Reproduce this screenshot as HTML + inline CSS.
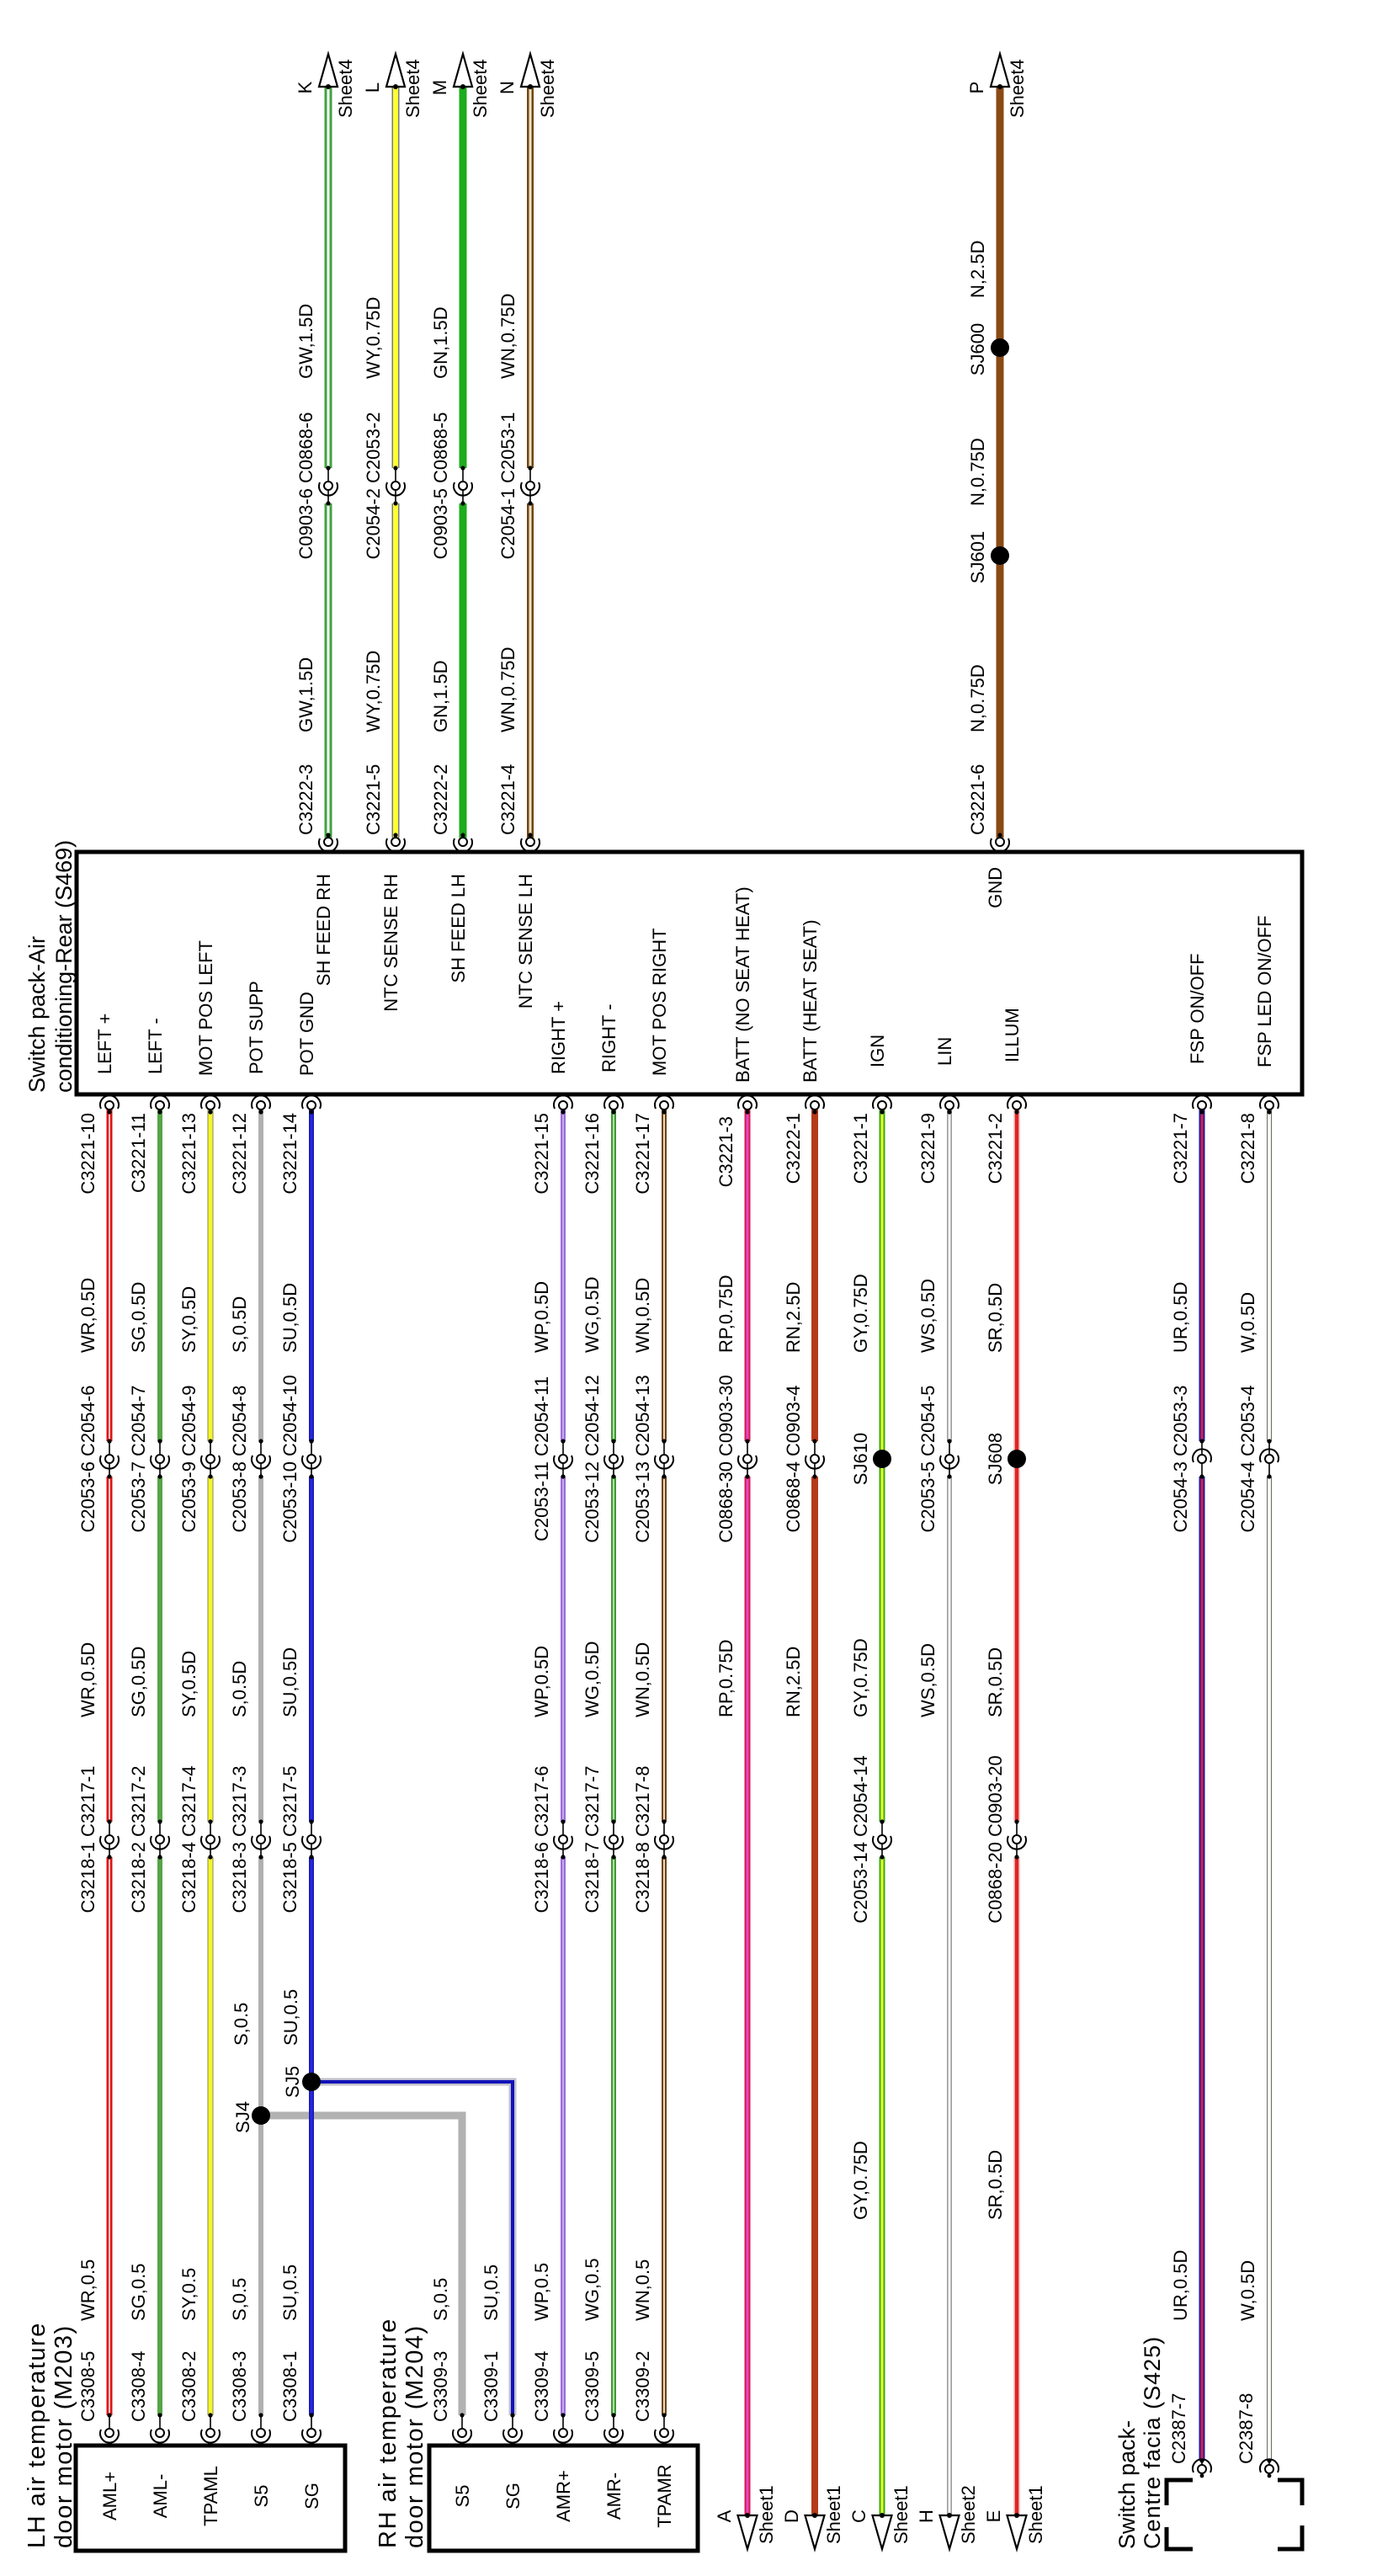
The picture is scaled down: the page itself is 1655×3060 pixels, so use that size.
<!DOCTYPE html>
<html><head><meta charset="utf-8">
<style>
html,body{margin:0;padding:0;background:#fff;}
svg{display:block;}
text{font-family:"Liberation Sans",Arial,sans-serif;font-size:22px;fill:#000;}
text.t{font-size:27px;}
text.tm{font-size:29px;letter-spacing:1.5px;}
</style></head><body>
<svg xmlns="http://www.w3.org/2000/svg" width="1655" height="3060" viewBox="0 0 1655 3060">
<rect width="1655" height="3060" fill="#fff"/>
<defs>
 <path id="p130" fill="none" d="M130,1318V1712M130,1754V2164M130,2206V2869"/>
 <path id="p190" fill="none" d="M190,1318V1712M190,1754V2164M190,2206V2869"/>
 <path id="p250" fill="none" d="M250,1318V1712M250,1754V2164M250,2206V2869"/>
 <path id="p310" fill="none" d="M310,1318V1712M310,1754V2164M310,2206V2869"/>
 <path id="p370" fill="none" d="M370,1318V1712M370,1754V2164M370,2206V2869"/>
 <path id="p669" fill="none" d="M669,1318V1712M669,1754V2164M669,2206V2869"/>
 <path id="p729" fill="none" d="M729,1318V1712M729,1754V2164M729,2206V2869"/>
 <path id="p789" fill="none" d="M789,1318V1712M789,1754V2164M789,2206V2869"/>
 <path id="p888" fill="none" d="M888,1318V1712M888,1754V2988"/>
 <path id="p968" fill="none" d="M968,1318V1712M968,1754V2988"/>
 <path id="p1128" fill="none" d="M1128,1318V1712M1128,1754V2988"/>
 <path id="p1048" fill="none" d="M1048,1318V2164M1048,2206V2988"/>
 <path id="p1208" fill="none" d="M1208,1318V2164M1208,2206V2988"/>
 <path id="p1428" fill="none" d="M1428,1318V1712M1428,1754V2923"/>
 <path id="p1508" fill="none" d="M1508,1318V1712M1508,1754V2923"/>
 <path id="bg" fill="none" d="M310,2513H549V2869"/>
 <path id="bb" fill="none" d="M370,2473H609V2869"/>
 <path id="p390" fill="none" d="M390,103V556M390,598V995"/>
 <path id="p470" fill="none" d="M470,103V556M470,598V995"/>
 <path id="p550" fill="none" d="M550,103V556M550,598V995"/>
 <path id="p630" fill="none" d="M630,103V556M630,598V995"/>
 <path id="p1188" fill="none" d="M1188,103V995"/>

 <g id="cB">
  <line x1="0" y1="-21" x2="0" y2="-5" stroke="#000" stroke-width="1.6"/>
  <line x1="0" y1="5" x2="0" y2="21" stroke="#000" stroke-width="1.6"/>
  <circle cx="0" cy="-21" r="2.6" fill="#000"/><circle cx="0" cy="21" r="2.6" fill="#000"/>
  <circle cx="0" cy="0" r="5" fill="#fff" stroke="#000" stroke-width="2"/>
  <path d="M-10,-4 A11 11 0 1 0 10,-4" fill="none" stroke="#000" stroke-width="2"/>
 </g>
 <g id="cT">
  <line x1="0" y1="-21" x2="0" y2="-5" stroke="#000" stroke-width="1.6"/>
  <line x1="0" y1="5" x2="0" y2="21" stroke="#000" stroke-width="1.6"/>
  <circle cx="0" cy="-21" r="2.6" fill="#000"/><circle cx="0" cy="21" r="2.6" fill="#000"/>
  <circle cx="0" cy="0" r="5" fill="#fff" stroke="#000" stroke-width="2"/>
  <path d="M-10,4 A11 11 0 1 1 10,4" fill="none" stroke="#000" stroke-width="2"/>
 </g>
 <g id="eT">
  <circle cx="0" cy="8" r="2.6" fill="#000"/>
  <circle cx="0" cy="0" r="5" fill="#fff" stroke="#000" stroke-width="2"/>
  <path d="M-10,4 A11 11 0 1 1 10,4" fill="none" stroke="#000" stroke-width="2"/>
 </g>
 <g id="eB">
  <circle cx="0" cy="-8" r="2.6" fill="#000"/>
  <circle cx="0" cy="0" r="5" fill="#fff" stroke="#000" stroke-width="2"/>
  <path d="M-10,-4 A11 11 0 1 0 10,-4" fill="none" stroke="#000" stroke-width="2"/>
 </g>
 <g id="hB">
  <line x1="0" y1="-21" x2="0" y2="-5" stroke="#000" stroke-width="1.6"/>
  <circle cx="0" cy="-21" r="2.6" fill="#000"/>
  <circle cx="0" cy="0" r="5" fill="#fff" stroke="#000" stroke-width="2"/>
  <path d="M-10,-4 A11 11 0 1 0 10,-4" fill="none" stroke="#000" stroke-width="2"/>
 </g>
 <g id="hT">
  <line x1="0" y1="-10" x2="0" y2="-5" stroke="#000" stroke-width="1.6"/>
  <circle cx="0" cy="-10" r="2.6" fill="#000"/>
  <circle cx="0" cy="0" r="5" fill="#fff" stroke="#000" stroke-width="2"/>
  <line x1="0" y1="5" x2="0" y2="8" stroke="#000" stroke-width="1.6"/>
  <circle cx="0" cy="8" r="2.4" fill="#000"/>
  <path d="M-10,4 A11 11 0 1 1 10,4" fill="none" stroke="#000" stroke-width="2"/>
 </g>
 <g id="aU">
  <polygon points="-11,39 11,39 0,0" fill="#fff" stroke="#000" stroke-width="2.2" stroke-linejoin="miter"/>
  <circle cx="0" cy="39" r="3" fill="#000"/>
 </g>
 <g id="aD">
  <polygon points="-11.5,0 11.5,0 0,40" fill="#fff" stroke="#000" stroke-width="2.2" stroke-linejoin="miter"/>
  <circle cx="0" cy="0" r="3" fill="#000"/>
 </g>
</defs>

<!-- ===== WIRES ===== -->
<use href="#p390" stroke="#3fa33f" stroke-width="9"/><use href="#p390" stroke="#fff" stroke-width="3"/>
<use href="#p470" stroke="#7a7a7a" stroke-width="9"/><use href="#p470" stroke="#ffff33" stroke-width="6"/>
<use href="#p550" stroke="#1cac1c" stroke-width="9"/>
<use href="#p630" stroke="#6e4616" stroke-width="8"/><use href="#p630" stroke="#f2e2c0" stroke-width="3"/>
<use href="#p1188" stroke="#8b4a14" stroke-width="9"/>

<use href="#p130" stroke="#e01414" stroke-width="7"/><use href="#p130" stroke="#fff" stroke-width="1.5"/>
<use href="#p190" stroke="#55a545" stroke-width="6"/>
<use href="#p250" stroke="#8a8a50" stroke-width="7"/><use href="#p250" stroke="#f5f52a" stroke-width="5"/>
<use href="#bg" stroke="#b2b2b2" stroke-width="9"/>
<use href="#p310" stroke="#b0b0b0" stroke-width="6"/>
<use href="#bb" stroke="#c0c0cc" stroke-width="9"/><use href="#bb" stroke="#1212b8" stroke-width="4"/>
<use href="#p370" stroke="#1a1ab0" stroke-width="6"/><use href="#p370" stroke="#2828e0" stroke-width="3"/>

<use href="#p669" stroke="#9b6ad8" stroke-width="6"/><use href="#p669" stroke="#d0bdf2" stroke-width="1.5"/>
<use href="#p729" stroke="#3e9a34" stroke-width="6"/><use href="#p729" stroke="#d8f0d0" stroke-width="1.5"/>
<use href="#p789" stroke="#6b4212" stroke-width="6"/><use href="#p789" stroke="#e8d8b8" stroke-width="2"/>

<use href="#p888" stroke="#d8184a" stroke-width="7"/><use href="#p888" stroke="#e048c8" stroke-width="3"/>
<use href="#p968" stroke="#b53a18" stroke-width="8"/>
<use href="#p1048" stroke="#3aa818" stroke-width="7"/><use href="#p1048" stroke="#e6ff28" stroke-width="3"/>
<use href="#p1128" stroke="#9a9a9a" stroke-width="6"/><use href="#p1128" stroke="#f4f4f4" stroke-width="3"/>
<use href="#p1208" stroke="#f0a0a0" stroke-width="7"/><use href="#p1208" stroke="#e02424" stroke-width="4"/>
<use href="#p1428" stroke="#1a1ab0" stroke-width="7"/><use href="#p1428" stroke="#d8203a" stroke-width="3"/>
<use href="#p1508" stroke="#6a6a6a" stroke-width="6"/><use href="#p1508" stroke="#fbfbef" stroke-width="4"/>

<!-- ===== CONNECTORS ===== -->
<use href="#eB" x="390" y="1000"/><use href="#eB" x="470" y="1000"/><use href="#eB" x="550" y="1000"/><use href="#eB" x="630" y="1000"/><use href="#eB" x="1188" y="1000"/>
<use href="#cB" x="390" y="577"/><use href="#cB" x="470" y="577"/><use href="#cB" x="550" y="577"/><use href="#cB" x="630" y="577"/>
<use href="#aU" x="390" y="64"/><use href="#aU" x="470" y="64"/><use href="#aU" x="550" y="64"/><use href="#aU" x="630" y="64"/><use href="#aU" x="1188" y="64"/>
<circle cx="1188" cy="413" r="11" fill="#000"/>
<circle cx="1188" cy="660" r="11" fill="#000"/>

<use href="#eT" x="130" y="1313"/><use href="#eT" x="190" y="1313"/><use href="#eT" x="250" y="1313"/><use href="#eT" x="310" y="1313"/><use href="#eT" x="370" y="1313"/>
<use href="#eT" x="669" y="1313"/><use href="#eT" x="729" y="1313"/><use href="#eT" x="789" y="1313"/>
<use href="#eT" x="888" y="1313"/><use href="#eT" x="968" y="1313"/><use href="#eT" x="1048" y="1313"/><use href="#eT" x="1128" y="1313"/><use href="#eT" x="1208" y="1313"/><use href="#eT" x="1428" y="1313"/><use href="#eT" x="1508" y="1313"/>

<use href="#cB" x="130" y="1733"/><use href="#cB" x="190" y="1733"/><use href="#cB" x="250" y="1733"/><use href="#cB" x="310" y="1733"/><use href="#cB" x="370" y="1733"/>
<use href="#cB" x="669" y="1733"/><use href="#cB" x="729" y="1733"/><use href="#cB" x="789" y="1733"/>
<use href="#cB" x="888" y="1733"/><use href="#cB" x="968" y="1733"/><use href="#cB" x="1128" y="1733"/>
<use href="#cT" x="1428" y="1733"/><use href="#cT" x="1508" y="1733"/>
<circle cx="1048" cy="1733" r="11" fill="#000"/>
<circle cx="1208" cy="1733" r="11" fill="#000"/>

<use href="#cB" x="130" y="2185"/><use href="#cB" x="190" y="2185"/><use href="#cB" x="250" y="2185"/><use href="#cB" x="310" y="2185"/><use href="#cB" x="370" y="2185"/>
<use href="#cB" x="669" y="2185"/><use href="#cB" x="729" y="2185"/><use href="#cB" x="789" y="2185"/>
<use href="#cB" x="1048" y="2185"/><use href="#cB" x="1208" y="2185"/>

<circle cx="310" cy="2513" r="11" fill="#000"/>
<circle cx="370" cy="2473" r="11" fill="#000"/>

<use href="#hB" x="130" y="2890"/><use href="#hB" x="190" y="2890"/><use href="#hB" x="250" y="2890"/><use href="#hB" x="310" y="2890"/><use href="#hB" x="370" y="2890"/>
<use href="#hB" x="549" y="2890"/><use href="#hB" x="609" y="2890"/><use href="#hB" x="669" y="2890"/><use href="#hB" x="729" y="2890"/><use href="#hB" x="789" y="2890"/>
<use href="#hT" x="1428" y="2933"/><use href="#hT" x="1508" y="2933"/>

<use href="#aD" x="888" y="2988"/><use href="#aD" x="968" y="2988"/><use href="#aD" x="1048" y="2988"/><use href="#aD" x="1128" y="2988"/><use href="#aD" x="1208" y="2988"/>

<!-- ===== BOXES ===== -->
<rect x="91" y="1012" width="1456" height="288" fill="none" stroke="#000" stroke-width="5"/>
<rect x="90" y="2905" width="320" height="125" fill="none" stroke="#000" stroke-width="5"/>
<rect x="510" y="2905" width="319" height="125" fill="none" stroke="#000" stroke-width="5"/>
<g fill="none" stroke="#000" stroke-width="5">
 <path d="M1417,2946H1386V2976"/>
 <path d="M1417,3028H1386V3002"/>
 <path d="M1518,2946H1547V2976"/>
 <path d="M1518,3028H1547V3000"/>
</g>

<!-- ===== TEXT ===== -->
<text transform="translate(370,104) rotate(-90)" text-anchor="middle">K</text>
<text transform="translate(450,104) rotate(-90)" text-anchor="middle">L</text>
<text transform="translate(530,104) rotate(-90)" text-anchor="middle">M</text>
<text transform="translate(610,104) rotate(-90)" text-anchor="middle">N</text>
<text transform="translate(1168,104) rotate(-90)" text-anchor="middle">P</text>
<text transform="translate(418,140) rotate(-90)">Sheet4</text>
<text transform="translate(498,140) rotate(-90)">Sheet4</text>
<text transform="translate(578,140) rotate(-90)">Sheet4</text>
<text transform="translate(658,140) rotate(-90)">Sheet4</text>
<text transform="translate(1216,140) rotate(-90)">Sheet4</text>

<text transform="translate(371,992) rotate(-90)">C3222-3</text>
<text transform="translate(451,992) rotate(-90)">C3221-5</text>
<text transform="translate(531,992) rotate(-90)">C3222-2</text>
<text transform="translate(611,992) rotate(-90)">C3221-4</text>
<text transform="translate(1169,992) rotate(-90)">C3221-6</text>

<text transform="translate(371,870) rotate(-90)">GW,1.5D</text>
<text transform="translate(451,870) rotate(-90)">WY,0.75D</text>
<text transform="translate(531,870) rotate(-90)">GN,1.5D</text>
<text transform="translate(611,870) rotate(-90)">WN,0.75D</text>
<text transform="translate(1169,870) rotate(-90)">N,0.75D</text>

<text transform="translate(371,577) rotate(-90)" text-anchor="middle">C0903-6 C0868-6</text>
<text transform="translate(451,577) rotate(-90)" text-anchor="middle">C2054-2 C2053-2</text>
<text transform="translate(531,577) rotate(-90)" text-anchor="middle">C0903-5 C0868-5</text>
<text transform="translate(611,577) rotate(-90)" text-anchor="middle">C2054-1 C2053-1</text>
<text transform="translate(1169,662) rotate(-90)" text-anchor="middle">SJ601</text>

<text transform="translate(371,450) rotate(-90)">GW,1.5D</text>
<text transform="translate(451,450) rotate(-90)">WY,0.75D</text>
<text transform="translate(531,450) rotate(-90)">GN,1.5D</text>
<text transform="translate(611,450) rotate(-90)">WN,0.75D</text>
<text transform="translate(1169,601) rotate(-90)">N,0.75D</text>
<text transform="translate(1169,415) rotate(-90)" text-anchor="middle">SJ600</text>
<text transform="translate(1169,354) rotate(-90)">N,2.5D</text>

<text class="t" transform="translate(53,1298) rotate(-90)">Switch pack-Air</text>
<text class="t" transform="translate(85,1298) rotate(-90)">conditioning-Rear  (S469)</text>

<text transform="translate(392,1038) rotate(-90)" text-anchor="end">SH FEED RH</text>
<text transform="translate(472,1038) rotate(-90)" text-anchor="end">NTC SENSE RH</text>
<text transform="translate(552,1038) rotate(-90)" text-anchor="end">SH FEED LH</text>
<text transform="translate(632,1038) rotate(-90)" text-anchor="end">NTC SENSE LH</text>
<text transform="translate(1190,1030) rotate(-90)" text-anchor="end">GND</text>

<text transform="translate(132,1276) rotate(-90)">LEFT +</text>
<text transform="translate(192,1276) rotate(-90)">LEFT -</text>
<text transform="translate(252,1278) rotate(-90)">MOT POS LEFT</text>
<text transform="translate(312,1276) rotate(-90)">POT SUPP</text>
<text transform="translate(372,1278) rotate(-90)">POT GND</text>
<text transform="translate(671,1276) rotate(-90)">RIGHT +</text>
<text transform="translate(731,1274) rotate(-90)">RIGHT -</text>
<text transform="translate(791,1278) rotate(-90)">MOT POS RIGHT</text>
<text transform="translate(890,1286) rotate(-90)">BATT (NO SEAT HEAT)</text>
<text transform="translate(970,1286) rotate(-90)">BATT (HEAT SEAT)</text>
<text transform="translate(1050,1268) rotate(-90)">IGN</text>
<text transform="translate(1130,1266) rotate(-90)">LIN</text>
<text transform="translate(1210,1262) rotate(-90)">ILLUM</text>
<text transform="translate(1430,1264) rotate(-90)">FSP ON/OFF</text>
<text transform="translate(1510,1268) rotate(-90)">FSP LED ON/OFF</text>

<text transform="translate(112,1322) rotate(-90)" text-anchor="end">C3221-10</text>
<text transform="translate(172,1322) rotate(-90)" text-anchor="end">C3221-11</text>
<text transform="translate(232,1322) rotate(-90)" text-anchor="end">C3221-13</text>
<text transform="translate(292,1322) rotate(-90)" text-anchor="end">C3221-12</text>
<text transform="translate(352,1322) rotate(-90)" text-anchor="end">C3221-14</text>
<text transform="translate(651,1322) rotate(-90)" text-anchor="end">C3221-15</text>
<text transform="translate(711,1322) rotate(-90)" text-anchor="end">C3221-16</text>
<text transform="translate(771,1322) rotate(-90)" text-anchor="end">C3221-17</text>
<text transform="translate(870,1326) rotate(-90)" text-anchor="end">C3221-3</text>
<text transform="translate(950,1322) rotate(-90)" text-anchor="end">C3222-1</text>
<text transform="translate(1030,1322) rotate(-90)" text-anchor="end">C3221-1</text>
<text transform="translate(1110,1322) rotate(-90)" text-anchor="end">C3221-9</text>
<text transform="translate(1190,1322) rotate(-90)" text-anchor="end">C3221-2</text>
<text transform="translate(1410,1322) rotate(-90)" text-anchor="end">C3221-7</text>
<text transform="translate(1490,1322) rotate(-90)" text-anchor="end">C3221-8</text>

<text transform="translate(112,1607) rotate(-90)">WR,0.5D</text>
<text transform="translate(172,1607) rotate(-90)">SG,0.5D</text>
<text transform="translate(232,1607) rotate(-90)">SY,0.5D</text>
<text transform="translate(292,1607) rotate(-90)">S,0.5D</text>
<text transform="translate(352,1607) rotate(-90)">SU,0.5D</text>
<text transform="translate(651,1607) rotate(-90)">WP,0.5D</text>
<text transform="translate(711,1607) rotate(-90)">WG,0.5D</text>
<text transform="translate(771,1607) rotate(-90)">WN,0.5D</text>
<text transform="translate(870,1607) rotate(-90)">RP,0.75D</text>
<text transform="translate(950,1607) rotate(-90)">RN,2.5D</text>
<text transform="translate(1030,1607) rotate(-90)">GY,0.75D</text>
<text transform="translate(1110,1607) rotate(-90)">WS,0.5D</text>
<text transform="translate(1190,1607) rotate(-90)">SR,0.5D</text>
<text transform="translate(1410,1607) rotate(-90)">UR,0.5D</text>
<text transform="translate(1490,1607) rotate(-90)">W,0.5D</text>

<text transform="translate(112,1733) rotate(-90)" text-anchor="middle">C2053-6 C2054-6</text>
<text transform="translate(172,1733) rotate(-90)" text-anchor="middle">C2053-7 C2054-7</text>
<text transform="translate(232,1733) rotate(-90)" text-anchor="middle">C2053-9 C2054-9</text>
<text transform="translate(292,1733) rotate(-90)" text-anchor="middle">C2053-8 C2054-8</text>
<text transform="translate(352,1733) rotate(-90)" text-anchor="middle">C2053-10 C2054-10</text>
<text transform="translate(651,1733) rotate(-90)" text-anchor="middle">C2053-11 C2054-11</text>
<text transform="translate(711,1733) rotate(-90)" text-anchor="middle">C2053-12 C2054-12</text>
<text transform="translate(771,1733) rotate(-90)" text-anchor="middle">C2053-13 C2054-13</text>
<text transform="translate(870,1733) rotate(-90)" text-anchor="middle">C0868-30 C0903-30</text>
<text transform="translate(950,1733) rotate(-90)" text-anchor="middle">C0868-4 C0903-4</text>
<text transform="translate(1030,1733) rotate(-90)" text-anchor="middle">SJ610</text>
<text transform="translate(1110,1733) rotate(-90)" text-anchor="middle">C2053-5 C2054-5</text>
<text transform="translate(1190,1733) rotate(-90)" text-anchor="middle">SJ608</text>
<text transform="translate(1410,1733) rotate(-90)" text-anchor="middle">C2054-3 C2053-3</text>
<text transform="translate(1490,1733) rotate(-90)" text-anchor="middle">C2054-4 C2053-4</text>

<text transform="translate(112,2040) rotate(-90)">WR,0.5D</text>
<text transform="translate(172,2040) rotate(-90)">SG,0.5D</text>
<text transform="translate(232,2040) rotate(-90)">SY,0.5D</text>
<text transform="translate(292,2040) rotate(-90)">S,0.5D</text>
<text transform="translate(352,2040) rotate(-90)">SU,0.5D</text>
<text transform="translate(651,2040) rotate(-90)">WP,0.5D</text>
<text transform="translate(711,2040) rotate(-90)">WG,0.5D</text>
<text transform="translate(771,2040) rotate(-90)">WN,0.5D</text>
<text transform="translate(870,2040) rotate(-90)">RP,0.75D</text>
<text transform="translate(950,2040) rotate(-90)">RN,2.5D</text>
<text transform="translate(1030,2040) rotate(-90)">GY,0.75D</text>
<text transform="translate(1110,2040) rotate(-90)">WS,0.5D</text>
<text transform="translate(1190,2040) rotate(-90)">SR,0.5D</text>

<text transform="translate(112,2185) rotate(-90)" text-anchor="middle">C3218-1 C3217-1</text>
<text transform="translate(172,2185) rotate(-90)" text-anchor="middle">C3218-2 C3217-2</text>
<text transform="translate(232,2185) rotate(-90)" text-anchor="middle">C3218-4 C3217-4</text>
<text transform="translate(292,2185) rotate(-90)" text-anchor="middle">C3218-3 C3217-3</text>
<text transform="translate(352,2185) rotate(-90)" text-anchor="middle">C3218-5 C3217-5</text>
<text transform="translate(651,2185) rotate(-90)" text-anchor="middle">C3218-6 C3217-6</text>
<text transform="translate(711,2185) rotate(-90)" text-anchor="middle">C3218-7 C3217-7</text>
<text transform="translate(771,2185) rotate(-90)" text-anchor="middle">C3218-8 C3217-8</text>
<text transform="translate(1030,2185) rotate(-90)" text-anchor="middle">C2053-14 C2054-14</text>
<text transform="translate(1190,2185) rotate(-90)" text-anchor="middle">C0868-20 C0903-20</text>

<text transform="translate(294,2430) rotate(-90)">S,0.5</text>
<text transform="translate(353,2430) rotate(-90)">SU,0.5</text>
<text transform="translate(355,2473) rotate(-90)" text-anchor="middle">SJ5</text>
<text transform="translate(296,2515) rotate(-90)" text-anchor="middle">SJ4</text>

<text transform="translate(1030,2637) rotate(-90)">GY,0.75D</text>
<text transform="translate(1190,2637) rotate(-90)">SR,0.5D</text>

<text transform="translate(112,2757) rotate(-90)">WR,0.5</text>
<text transform="translate(172,2757) rotate(-90)">SG,0.5</text>
<text transform="translate(232,2757) rotate(-90)">SY,0.5</text>
<text transform="translate(292,2757) rotate(-90)">S,0.5</text>
<text transform="translate(352,2757) rotate(-90)">SU,0.5</text>
<text transform="translate(531,2757) rotate(-90)">S,0.5</text>
<text transform="translate(591,2757) rotate(-90)">SU,0.5</text>
<text transform="translate(651,2757) rotate(-90)">WP,0.5</text>
<text transform="translate(711,2757) rotate(-90)">WG,0.5</text>
<text transform="translate(771,2757) rotate(-90)">WN,0.5</text>
<text transform="translate(1410,2757) rotate(-90)">UR,0.5D</text>
<text transform="translate(1490,2757) rotate(-90)">W,0.5D</text>

<text transform="translate(112,2877) rotate(-90)">C3308-5</text>
<text transform="translate(172,2877) rotate(-90)">C3308-4</text>
<text transform="translate(232,2877) rotate(-90)">C3308-2</text>
<text transform="translate(292,2877) rotate(-90)">C3308-3</text>
<text transform="translate(352,2877) rotate(-90)">C3308-1</text>
<text transform="translate(531,2877) rotate(-90)">C3309-3</text>
<text transform="translate(591,2877) rotate(-90)">C3309-1</text>
<text transform="translate(651,2877) rotate(-90)">C3309-4</text>
<text transform="translate(711,2877) rotate(-90)">C3309-5</text>
<text transform="translate(771,2877) rotate(-90)">C3309-2</text>
<text transform="translate(1408,2927) rotate(-90)">C2387-7</text>
<text transform="translate(1488,2927) rotate(-90)">C2387-8</text>

<text transform="translate(138,2965) rotate(-90)" text-anchor="middle">AML+</text>
<text transform="translate(198,2965) rotate(-90)" text-anchor="middle">AML-</text>
<text transform="translate(258,2965) rotate(-90)" text-anchor="middle">TPAML</text>
<text transform="translate(318,2965) rotate(-90)" text-anchor="middle">S5</text>
<text transform="translate(378,2965) rotate(-90)" text-anchor="middle">SG</text>
<text transform="translate(557,2965) rotate(-90)" text-anchor="middle">S5</text>
<text transform="translate(617,2965) rotate(-90)" text-anchor="middle">SG</text>
<text transform="translate(677,2965) rotate(-90)" text-anchor="middle">AMR+</text>
<text transform="translate(737,2965) rotate(-90)" text-anchor="middle">AMR-</text>
<text transform="translate(797,2965) rotate(-90)" text-anchor="middle">TPAMR</text>

<text class="tm" transform="translate(53,3027) rotate(-90)">LH air temperature</text>
<text class="tm" transform="translate(85,3027) rotate(-90)">door motor (M203)</text>
<text class="tm" transform="translate(470,3027) rotate(-90)">RH air temperature</text>
<text class="tm" transform="translate(502,3027) rotate(-90)">door motor (M204)</text>
<text class="t" transform="translate(1348,3028) rotate(-90)">Switch pack-</text>
<text class="t" transform="translate(1378,3028) rotate(-90)" style="letter-spacing:1px">Centre facia (S425)</text>

<text transform="translate(868,2989) rotate(-90)" text-anchor="middle">A</text>
<text transform="translate(948,2989) rotate(-90)" text-anchor="middle">D</text>
<text transform="translate(1028,2989) rotate(-90)" text-anchor="middle">C</text>
<text transform="translate(1108,2989) rotate(-90)" text-anchor="middle">H</text>
<text transform="translate(1188,2989) rotate(-90)" text-anchor="middle">E</text>
<text transform="translate(918,3022) rotate(-90)">Sheet1</text>
<text transform="translate(998,3022) rotate(-90)">Sheet1</text>
<text transform="translate(1078,3022) rotate(-90)">Sheet1</text>
<text transform="translate(1158,3022) rotate(-90)">Sheet2</text>
<text transform="translate(1238,3022) rotate(-90)">Sheet1</text>
</svg>
</body></html>
